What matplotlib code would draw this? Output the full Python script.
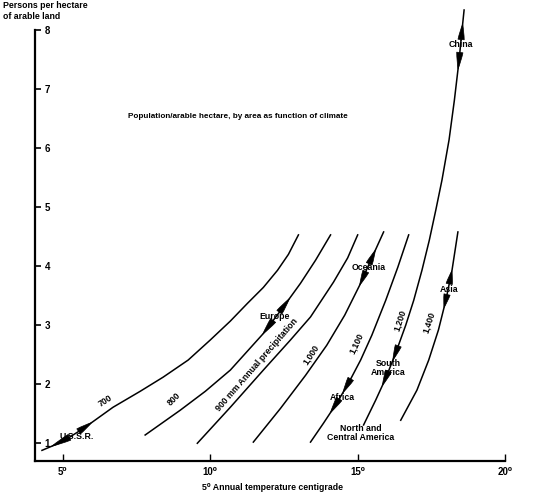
import matplotlib.pyplot as plt
import numpy as np

plt.rcParams['font.family'] = ['Liberation Sans', 'DejaVu Sans']

# curvas de precipitacao anual (mm): temperatura (x) e pessoas/hectare (y)
temp_700 = [4.29, 5.00, 5.75, 6.70, 7.62, 8.40, 9.25, 10.00, 10.68, 11.26, 11.80, 12.28, 12.65, 12.99]
pess_700 = [0.88, 1.03, 1.27, 1.61, 1.88, 2.12, 2.41, 2.75, 3.07, 3.37, 3.64, 3.93, 4.20, 4.53]

temp_800 = [7.79, 8.98, 9.83, 10.68, 11.80, 12.48, 13.06, 13.57, 14.08]
pess_800 = [1.14, 1.56, 1.88, 2.24, 2.86, 3.31, 3.71, 4.10, 4.53]

temp_900 = [9.56, 10.68, 11.80, 12.72, 13.40, 14.18, 14.66, 15.00]
pess_900 = [1.00, 1.61, 2.24, 2.75, 3.14, 3.73, 4.14, 4.53]

temp_1000 = [11.46, 12.38, 13.23, 13.95, 14.56, 15.07, 15.48, 15.88]
pess_1000 = [1.02, 1.59, 2.15, 2.66, 3.17, 3.68, 4.14, 4.58]

temp_1100 = [13.40, 13.84, 14.29, 14.69, 15.10, 15.48, 15.95, 16.36, 16.73]
pess_1100 = [1.02, 1.34, 1.68, 2.02, 2.41, 2.83, 3.42, 3.98, 4.53]

temp_1200 = [15.20, 15.61, 15.95, 16.29, 16.63, 16.90, 17.18, 17.43, 17.65,
             17.86, 18.10, 18.28, 18.44, 18.54, 18.61]
pess_1200 = [1.31, 1.73, 2.10, 2.53, 3.00, 3.42, 3.93, 4.44, 4.95,
             5.46, 6.14, 6.81, 7.49, 8.00, 8.34]

temp_1400 = [16.46, 17.01, 17.41, 17.74, 17.99, 18.20, 18.40]
pess_1400 = [1.39, 1.90, 2.41, 2.92, 3.42, 3.93, 4.58]

curvas = {
    '700': (temp_700, pess_700),
    '800': (temp_800, pess_800),
    '900': (temp_900, pess_900),
    '1,000': (temp_1000, pess_1000),
    '1,100': (temp_1100, pess_1100),
    '1,200': (temp_1200, pess_1200),
    '1,400': (temp_1400, pess_1400),
}

# rotulos das curvas: texto, x, y, rotacao
rotulos_curvas = [
    ('700', 6.44, 1.71, 33),
    ('800', 8.79, 1.75, 45),
    ('900 mm Annual precipitation', 11.57, 2.33, 49),
    ('1,000', 13.43, 2.51, 57),
    ('1,100', 14.97, 2.70, 65),
    ('1,200', 16.44, 3.08, 72),
    ('1,400', 17.41, 3.05, 72),
]

# regioes: nome, x, y, alinhamento
regioes = [
    ('U.S.S.R.', 4.90, 1.12, 'left'),
    ('Europe', 12.18, 3.14, 'center'),
    ('Oceania', 15.37, 3.97, 'center'),
    ('Africa', 14.49, 1.78, 'center'),
    ('South\nAmerica', 16.05, 2.27, 'center'),
    ('North and\nCentral America', 15.10, 1.17, 'center'),
    ('China', 18.50, 7.75, 'center'),
    ('Asia', 18.10, 3.61, 'center'),
]

# setas: curva, y da ponta, y da cauda
setas = [
    ('700', 0.95, 1.10), ('700', 1.35, 1.20),
    ('800', 3.45, 3.22), ('800', 2.85, 3.08),
    ('1,000', 4.27, 4.04), ('1,000', 3.68, 3.91),
    ('1,100', 1.86, 2.09), ('1,100', 1.52, 1.75),
    ('1,200', 2.41, 2.65), ('1,200', 1.98, 2.22),
    ('1,200', 7.34, 7.62), ('1,200', 8.10, 7.84),
    ('1,400', 3.92, 3.70), ('1,400', 3.30, 3.52),
]

titulo = 'Population/arable hectare, by area as function of climate'

fig = plt.figure(figsize=(5.37, 4.96), dpi=100)
ax = fig.add_axes([0.065, 0.0706, 0.892, 0.9164])

for nome, (xs, ys) in curvas.items():
    ax.plot(xs, ys, color='black', lw=1.1, solid_joinstyle='round')

for txt, x, y, rot in rotulos_curvas:
    ax.text(x, y, txt, rotation=rot, ha='center', va='center',
            fontsize=6.3, fontweight='bold', rotation_mode='anchor')

for txt, x, y, ha in regioes:
    ax.text(x, y, txt, ha=ha, va='center', fontsize=6.3, fontweight='bold',
            linespacing=0.95)

for nome, yp, yc in setas:
    xs, ys = curvas[nome]
    xp = np.interp(yp, ys, xs)
    xc = np.interp(yc, ys, xs)
    ax.annotate('', xy=(xp, yp), xytext=(xc, yc),
                arrowprops=dict(arrowstyle='wedge,tail_width=0.45,shrink_factor=0.6',
                                color='black', lw=0.5, shrinkA=0, shrinkB=0))

ax.text(10.95, 6.53, titulo, ha='center', va='center', fontsize=5.9,
        fontweight='bold')

ax.set_xlim(4.05, 20.3)
ax.set_ylim(0.7, 8.4)
ax.spines['top'].set_visible(False)
ax.spines['right'].set_visible(False)
ax.spines['left'].set_bounds(0.7, 8)
ax.spines['bottom'].set_bounds(4.05, 20)
ax.spines['left'].set_linewidth(1.6)
ax.spines['bottom'].set_linewidth(1.6)

ax.set_xticks([5, 10, 15, 20])
ax.set_xticklabels(['5\u2070', '10\u2070', '15\u2070', '20\u2070'])
ax.set_yticks([1, 2, 3, 4, 5, 6, 7, 8])
ax.tick_params(axis='x', direction='in', length=5, width=1, labelsize=7, pad=4)
ax.tick_params(axis='y', direction='in', length=4, width=1.2, labelsize=7, pad=-11)
for lab in ax.get_xticklabels() + ax.get_yticklabels():
    lab.set_fontweight('bold')

fig.text(0.005, 0.997, 'Persons per hectare\nof arable land', ha='left', va='top',
         fontsize=6.3, fontweight='bold', linespacing=1.25)
fig.text(0.507, 0.018, '5\u2070 Annual temperature centigrade', ha='center',
         va='center', fontsize=6.3, fontweight='bold')

fig.savefig('out.png', dpi=100)
